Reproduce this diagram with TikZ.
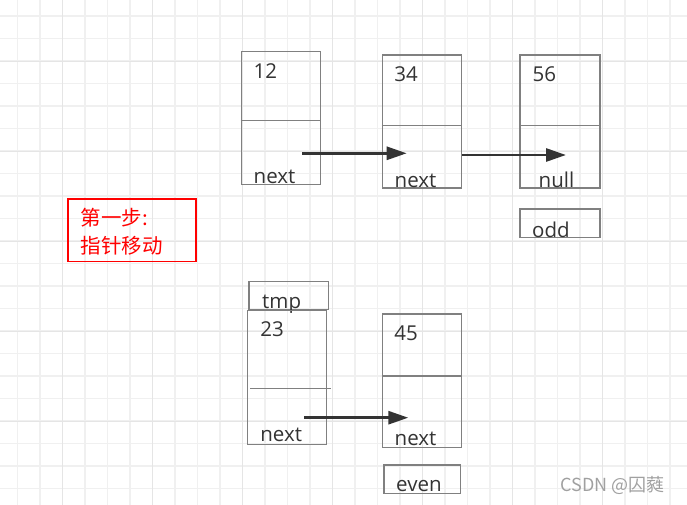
\documentclass[tikz,border=0pt]{standalone}
\usepackage{fontspec}
\setmainfont{Open Sans}
\newfontfamily\cjk{Noto Sans CJK SC}
\usetikzlibrary{arrows.meta}

\definecolor{gridminor}{RGB}{240,240,240}
\definecolor{gridmajor}{RGB}{229,229,229}
\definecolor{boxline}{RGB}{128,128,128}
\definecolor{ink}{RGB}{51,51,51}
\definecolor{mark}{RGB}{160,160,160}

\tikzset{
  cell/.style={draw=boxline, line width=1.4pt, minimum width=80pt, inner sep=0pt, anchor=north west},
  divider/.style={draw=boxline, line width=1.2pt},
  val/.style={anchor=base west, inner sep=0pt, text=ink, font=\fontsize{20.5}{24}\selectfont},
  ptr/.style={draw=ink, line width=2.8pt, -{Triangle[length=20pt,width=13pt]}},
}

\begin{document}
\begin{tikzpicture}[x=1pt,y=-1pt]
\useasboundingbox (0,0) rectangle (687,505);

% grid
\foreach \i in {0,...,29} \draw[gridminor, line width=1.5pt] (17.3+22.5*\i,0) -- ++(0,505);
\foreach \i in {0,...,21} \draw[gridminor, line width=1.5pt] (0,16+22.5*\i) -- ++(687,0);
\foreach \i in {0,...,6} \draw[gridmajor, line width=1.5pt] (62.3+90*\i,0) -- ++(0,505);
\foreach \i in {0,...,4} \draw[gridmajor, line width=1.5pt] (0,61.7+90*\i) -- ++(687,0);

% odd list
\node[cell, minimum width=79.3pt, minimum height=133.3pt] (b12) at (240.7,50.7) {};
\draw[divider] (240.7,120.7) -- (320,120.7);
\node[val] (v12) at (253.5,78.3) {12};
\node[val] (n12) at (253.5,183) {next};

\node[cell, minimum width=79.3pt, minimum height=133pt] (b34) at (381.7,54.3) {};
\draw[divider] (381.7,125.7) -- (461,125.7);
\node[val] (v34) at (394.2,81.7) {34};
\node[val] (n34) at (394.5,187) {next};

\node[cell, minimum height=133pt] (b56) at (519.3,54.3) {};
\draw[divider] (519.3,125.7) -- (599.3,125.7);
\node[val] (v56) at (532.5,81.7) {56};
\node[val] (n56) at (538.5,187) {null};

\node[cell, minimum height=28.4pt] (bodd) at (519.3,208.3) {};
\node[val] (todd) at (532,237) {odd};

\coordinate (p12) at (302,153.3);
\coordinate (q34) at (406.7,153.3);
\draw[ptr] (p12) -- (q34);
\coordinate (q56) at (566,155);
\draw[ptr] (b34.east |- q56) -- (q56);

% step label
\node[draw=red, line width=1.3pt, anchor=north west, minimum width=128pt, minimum height=62.7pt] (step1) at (67.3,198.3) {};
\node[anchor=base west, inner sep=0pt, text=red, font=\cjk\fontsize{20.5}{24}\selectfont] (s1) at (80.5,225) {第一步:};
\node[anchor=base west, inner sep=0pt, text=red, font=\cjk\fontsize{20.5}{24}\selectfont] (s2) at (80.5,253.5) {指针移动};

% even list
\node[cell, minimum width=79.7pt, minimum height=28.3pt] (btmp) at (248.3,280.7) {};
\node[val] (ttmp) at (262,308) {tmp};

\node[cell, minimum width=79.3pt, minimum height=134pt] (b23) at (246.7,310) {};
\draw[divider] (250,388.3) -- (330.7,388.3);
\node[val] (v23) at (260.2,336.7) {23};
\node[val] (n23) at (260.2,441.7) {next};

\node[cell, minimum width=79.3pt, minimum height=133.4pt] (b45) at (381.7,313.3) {};
\draw[divider] (381.7,376) -- (461,376);
\node[val] (v45) at (394.2,340) {45};
\node[val] (n45) at (394.5,445) {next};

\node[cell, minimum width=76.7pt, minimum height=28.4pt] (beven) at (383.3,464.3) {};
\node[val] (teven) at (396,491.7) {even};

\coordinate (p23) at (304,417.7);
\coordinate (q45) at (408.3,417.7);
\draw[ptr] (p23) -- (q45);

% watermark
\node[anchor=base west, inner sep=0pt, text=mark, font=\cjk\fontsize{18}{20}\selectfont] (wm) at (560.5,491) {CSDN @囚蕤};
\end{tikzpicture}
\end{document}
